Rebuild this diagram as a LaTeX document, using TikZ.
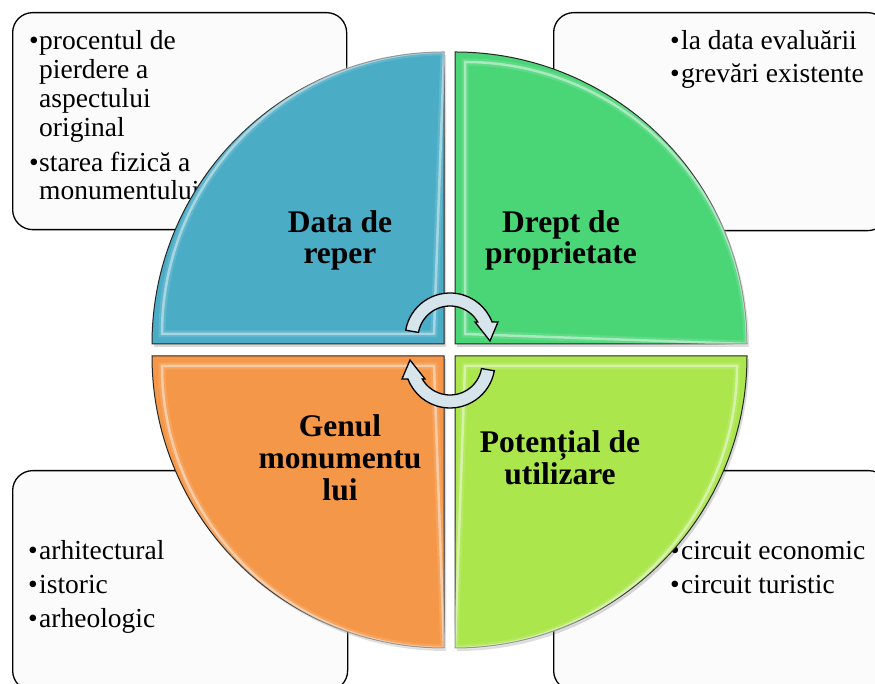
\documentclass[tikz,border=0pt]{standalone}
\usepackage{fontspec}
\setmainfont{Liberation Serif}
\definecolor{boxfill}{RGB}{251,251,251}
\definecolor{blueq}{RGB}{75,172,198}
\definecolor{greenq}{RGB}{74,214,119}
\definecolor{limeq}{RGB}{170,230,76}
\definecolor{orangeq}{RGB}{245,151,72}
\definecolor{arrfill}{RGB}{214,228,236}
\begin{document}
\begin{tikzpicture}[x=1pt,y=1pt,
  box/.style={draw=black, line width=1.3pt, fill=boxfill, rounded corners=20pt, anchor=north west, inner sep=0},
  quad/.style={draw=black!85, line width=1pt},
  bevel/.style={draw=white, line width=2.5pt, opacity=0.45},
  bevelsoft/.style={draw=white, line width=7pt, opacity=0.12},
  lbl/.style={font=\fontsize{31.5}{32}\selectfont\bfseries, anchor=base, inner sep=0},
  txt/.style={font=\fontsize{27.5}{29}\selectfont, anchor=base west, inner sep=0},
  arr/.style={draw=black, line width=1.3pt, fill=arrfill}]
\useasboundingbox (0,0) rectangle (875,684);
% boxes
\node[box, minimum width=334, minimum height=217] (tlbox) at (12,672) {};
\node[box, minimum width=334, minimum height=218] (trbox) at (553,672) {};
\node[box, minimum width=335, minimum height=220] (blbox) at (12,214) {};
\node[box, minimum width=335, minimum height=220] (brbox) at (553,214) {};
% box texts
\node[txt] (b1) at (29,634) {•};
\node[txt] (t1) at (39,634) {procentul de};
\node[txt] (t2) at (39,605) {pierdere a};
\node[txt] (t3) at (39,576) {aspectului};
\node[txt] (t4) at (39,547) {original};
\node[txt] (b2) at (29,512) {•};
\node[txt] (t5) at (39,512) {starea fizică a};
\node[txt] (t6) at (39,484) {monumentului};
\node[txt] (b3) at (670,634) {•};
\node[txt] (t7) at (681,634) {la data evaluării};
\node[txt] (b4) at (670,601) {•};
\node[txt] (t8) at (681,601) {grevări existente};
\node[txt] (b5) at (28,124) {•};
\node[txt] (t9) at (39,124) {arhitectural};
\node[txt] (b6) at (28,90) {•};
\node[txt] (t10) at (39,90) {istoric};
\node[txt] (b7) at (28,56) {•};
\node[txt] (t11) at (39,56) {arheologic};
\node[txt] (b8) at (670,124) {•};
\node[txt] (t12) at (681,124) {circuit economic};
\node[txt] (b9) at (670,90) {•};
\node[txt] (t13) at (681,90) {circuit turistic};
% quadrants
\fill[black, opacity=0.15] (446,337) -- (154,337) arc (180:90:292) -- cycle;
\fill[black, opacity=0.15] (457,337) -- (457,629) arc (90:0:292) -- cycle;
\fill[black, opacity=0.15] (446,325) -- (154,325) arc (180:270:292) -- cycle;
\fill[black, opacity=0.15] (457,325) -- (749,325) arc (0:-90:292) -- cycle;
\path[quad, fill=blueq] (444,340) -- (152,340) arc (180:90:292) -- cycle;
\path[quad, fill=greenq] (455,340) -- (455,632) arc (90:0:292) -- cycle;
\path[quad, fill=orangeq] (444,328) -- (152,328) arc (180:270:292) -- cycle;
\path[quad, fill=limeq] (455,328) -- (747,328) arc (0:-90:292) -- cycle;
% bevel highlights
\draw[bevelsoft] (434,350) -- (162,350) arc (180:90:282) -- cycle;
\draw[bevel] (434,350) -- (162,350) arc (180:90:282) -- cycle;
\draw[bevelsoft] (465,350) -- (465,622) arc (90:0:282) -- cycle;
\draw[bevel] (465,350) -- (465,622) arc (90:0:282) -- cycle;
\draw[bevelsoft] (434,318) -- (162,318) arc (180:270:282) -- cycle;
\draw[bevel] (434,318) -- (162,318) arc (180:270:282) -- cycle;
\draw[bevelsoft] (465,318) -- (737,318) arc (0:-90:282) -- cycle;
\draw[bevel] (465,318) -- (737,318) arc (0:-90:282) -- cycle;
% labels
\node[lbl] (l1a) at (340,451) {Data de};
\node[lbl] (l1b) at (340,420) {reper};
\node[lbl] (l2a) at (561,451) {Drept de};
\node[lbl] (l2b) at (561,420) {proprietate};
\node[lbl] (l3a) at (340,247) {Genul};
\node[lbl] (l3b) at (340,215) {monumentu};
\node[lbl] (l3c) at (340,183) {lui};
\node[lbl] (l4a) at (560,231) {Potențial de};
\node[lbl] (l4b) at (560,199) {utilizare};
% circular arrows
\begin{scope}[shift={(450,346)}]
\draw[arr] (170:45) arc (170:21:45) -- (48,16) -- (40,-3) -- (25,16) -- (30:32) arc (30:170:32) -- cycle;
\end{scope}
\begin{scope}[shift={(450,321)}, rotate=180]
\draw[arr] (170:45) arc (170:21:45) -- (48,16) -- (40,-3) -- (25,16) -- (30:32) arc (30:170:32) -- cycle;
\end{scope}
\end{tikzpicture}
\end{document}
